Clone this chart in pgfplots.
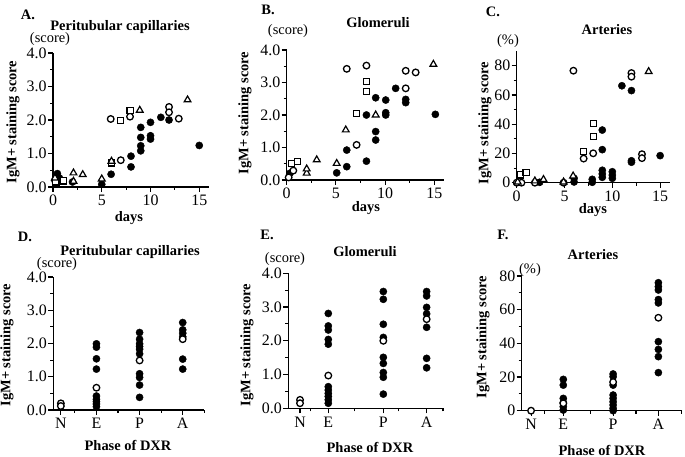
\documentclass[border=0pt]{standalone}
\usepackage{pgfplots}
\pgfplotsset{compat=1.18}
\usepackage{fontspec}
\setmainfont{Liberation Serif}
\newcommand{\lf}{\bfseries\fontsize{14.5}{15}\selectfont}
\newcommand{\rf}{\fontsize{14.5}{15}\selectfont}
\newcommand{\tf}{\fontsize{16}{16}\selectfont}
\begin{document}
\begin{tikzpicture}
\path[use as bounding box] (0,0) rectangle (685bp,457bp);
\pgfplotsset{
 base/.style={scale only axis, anchor=south west, axis lines*=left, clip=false,
   tick align=outside, axis line style={line width=1.1bp},
   every tick/.style={black, line width=1.1bp},
   major tick length=5bp, minor tick length=3bp,
   ticklabel style={font=\tf, inner sep=1.2bp},
   xticklabel style={yshift=-2bp}},
 sc/.style={base, ymin=0, ymax=4, ytick={0,1,2,3,4}, yticklabels={0.0,1.0,2.0,3.0,4.0}, minor ytick={0.5,1.5,2.5,3.5}},
 dy/.style={xmin=0, xmax=16, xtick={0,5,10,15}, xticklabels={0,5,10,15}, minor xtick={2.5,7.5,12.5}},
 fc/.style={only marks, mark=*, mark size=3.6bp, mark options={fill=black, draw=black}},
 oc/.style={only marks, mark=*, mark size=3.3bp, mark options={fill=white, draw=black, line width=1.3bp}},
 os/.style={only marks, mark=square*, mark size=3.1bp, mark options={fill=white, draw=black, line width=1.2bp}},
 ot/.style={only marks, mark=triangle*, mark size=3.9bp, mark options={fill=white, draw=black, line width=1.2bp}},
}
% ---------- A ----------
\begin{axis}[sc, dy, at={(53bp,270bp)}, width=156bp, height=134bp]
\addplot[fc] coordinates {(0.45,0.40)(0.65,0.27)(2.0,0.15)(5.0,0.08)(5.96,0.38)(8.0,0.92)(8.0,0.6)(9.0,1.78)(9.0,1.48)(9.0,1.23)(9.0,1.08)(10.0,1.93)(10.0,1.53)(10.0,1.43)(11.06,2.08)(11.9,2.0)(15.0,1.24)};
\addplot[oc] coordinates {(5.92,2.03)(6.95,0.8)(7.9,2.1)(11.9,2.39)(11.9,2.23)(12.9,2.04)(0.2,0.2)};
\addplot[os] coordinates {(6.95,1.99)(7.9,2.28)(1.06,0.18)(0.3,0.15)(6.0,0.72)};
\addplot[ot] coordinates {(2.1,0.42)(3.05,0.37)(5.0,0.24)(6.0,0.77)(8.9,2.29)(13.8,2.6)(0.2,0.27)(2.1,0.17)};
\end{axis}
% ---------- B ----------
\begin{axis}[sc, dy, at={(286.7bp,277bp)}, width=157.5bp, height=130bp]
\addplot[fc] coordinates {(0.34,0.21)(5.08,0.22)(6.1,0.41)(6.1,0.92)(8.1,0.58)(8.1,2.0)(9.04,2.53)(9.04,1.49)(9.04,1.23)(10.06,2.46)(10.06,2.07)(10.06,2.0)(11.07,2.82)(12.09,2.48)(12.09,2.38)(15.1,2.02)};
\addplot[oc] coordinates {(6.1,3.42)(7.1,1.08)(8.1,3.52)(12.09,3.36)(12.09,2.82)(13.1,3.31)(0.67,0.29)(0.2,0.08)};
\addplot[os] coordinates {(0.51,0.51)(1.12,0.56)(7.1,2.05)(8.1,3.03)(8.1,2.72)};
\addplot[ot] coordinates {(3.05,0.62)(2.03,0.21)(2.03,0.34)(5.08,0.51)(6.0,1.54)(9.04,2.0)(14.9,3.56)};
\end{axis}
% ---------- C ----------
\begin{axis}[base, dy, at={(516.7bp,274.3bp)}, width=153bp, height=131.6bp, ymin=0, ymax=90, ytick={0,20,40,60,80}, yticklabels={0,20,40,60,80}, minor ytick={10,30,50,70}]
\addplot[fc] coordinates {(6,0.5)(6,3.0)(7.9,2.3)(7.9,0.3)(8.95,36)(8.95,22.6)(8.95,8.5)(8.95,6)(8.95,3.7)(10,7.5)(10,5.2)(10,3.0)(11,66.3)(12,63)(12,15)(12,14)(15,18.5)(2.4,0.3)};
\addplot[oc] coordinates {(5.93,76.6)(7,16.5)(8,20.1)(12,75)(12,72.5)(13.1,19.5)(13.1,16.8)(0,0)(0.5,0)(1.9,0)(4.9,0)};
\addplot[os] coordinates {(7,21.5)(8,40.5)(8,31.5)(0.35,5.3)(0.98,6.8)};
\addplot[ot] coordinates {(1.9,1.2)(2.8,2.2)(5.9,4.6)(4.9,0.5)(13.8,76)(0.1,0.5)};
\end{axis}
% ---------- D ----------
\begin{axis}[sc, at={(53.3bp,47bp)}, width=151bp, height=133bp, xmin=0, xmax=7, xtick={0.35,2,4,6}, xticklabels={N,E,P,A}, minor xtick={1,3,5,7}]
\addplot[fc] coordinates {(2,1.99)(2,1.89)(2,1.54)(2,1.23)(2,0.42)(2,0.32)(2,0.25)(2,0.18)(2,0.1)
 (4,2.33)(4,2.13)(4,1.99)(4,1.91)(4,1.83)(4,1.69)(4,1.09)(4,0.98)(4,0.75)(4,0.38)
 (6,2.63)(6,2.41)(6,2.31)(6,2.2)(6,1.53)(6,1.23)};
\addplot[oc] coordinates {(0.35,0.2)(0.35,0.12)(2,0.67)(4,1.49)(6,2.13)};
\end{axis}
% ---------- E ----------
\begin{axis}[sc, at={(288.3bp,48.7bp)}, width=154.7bp, height=135bp, xmin=0, xmax=7, xtick={0.53,1.81,4.3,6.26}, xticklabels={N,E,P,A}, minor xtick={1,3,5,7}]
\addplot[fc] coordinates {(1.81,2.81)(1.81,2.44)(1.81,2.32)(1.81,2.04)(1.81,1.9)(1.81,0.64)(1.81,0.54)(1.81,0.44)(1.81,0.35)(1.81,0.25)(1.81,0.15)
 (4.3,3.46)(4.3,3.23)(4.3,2.49)(4.3,2.1)(4.3,1.51)(4.3,1.33)(4.3,1.06)(4.3,0.92)(4.3,0.42)
 (6.26,3.46)(6.26,3.33)(6.26,2.99)(6.26,2.8)(6.26,2.4)(6.26,1.48)(6.26,1.2)};
\addplot[oc] coordinates {(0.53,0.25)(0.53,0.15)(1.81,0.97)(4.3,2.0)(6.26,2.64)};
\end{axis}
% ---------- F ----------
\begin{axis}[base, at={(521.7bp,46.3bp)}, width=160bp, height=134.7bp, ymin=0, ymax=80, ytick={0,20,40,60,80}, yticklabels={0,20,40,60,80}, minor ytick={10,30,50,70}, xmin=0, xmax=7, xtick={0.41,1.82,4.0,5.98}, xticklabels={N,E,P,A}, minor xtick={1,3,5,7}]
\addplot[fc] coordinates {(1.82,18.6)(1.82,15.2)(1.82,7.3)(1.82,4.8)(1.82,2.4)(1.82,0.4)
 (4,21.8)(4,20.2)(4,15.2)(4,9.3)(4,7.3)(4,5.3)(4,3.4)(4,1.4)(4,0)
 (5.98,76)(5.98,73.7)(5.98,71.7)(5.98,66)(5.98,64)(5.98,41)(5.98,36.4)(5.98,32.1)(5.98,22.6)};
\addplot[oc] coordinates {(0.41,0)(1.82,4.4)(4,17)(5.98,55.2)};
\end{axis}
% ---------- texts ----------
\node[font=\lf] at (28bp,442bp) {A.};
\node[font=\lf] at (120bp,430bp) {Peritubular capillaries};
\node[font=\rf] at (50bp,418bp) {(score)};
\node[font=\lf] at (129bp,239bp) {days};
\node[font=\lf, rotate=90] at (13bp,335bp) {IgM+ staining score};
\node[font=\lf] at (268bp,447bp) {B.};
\node[font=\lf] at (378bp,434bp) {Glomeruli};
\node[font=\rf] at (288bp,426bp) {(score)};
\node[font=\lf] at (366bp,249bp) {days};
\node[font=\lf, rotate=90] at (245bp,344bp) {IgM+ staining score};
\node[font=\lf] at (493bp,445bp) {C.};
\node[font=\lf] at (607bp,427bp) {Arteries};
\node[font=\rf] at (508bp,416bp) {(\%)};
\node[font=\lf] at (593bp,247bp) {days};
\node[font=\lf, rotate=90] at (485bp,334bp) {IgM+ staining score};
\node[font=\lf] at (25bp,220bp) {D.};
\node[font=\lf] at (130bp,205bp) {Peritubular capillaries};
\node[font=\rf] at (57bp,193bp) {(score)};
\node[font=\lf] at (128bp,12bp) {Phase of DXR};
\node[font=\lf, rotate=90] at (7bp,112bp) {IgM+ staining score};
\node[font=\lf] at (267bp,222bp) {E.};
\node[font=\lf] at (365bp,205bp) {Glomeruli};
\node[font=\rf] at (285bp,198bp) {(score)};
\node[font=\lf] at (370bp,10bp) {Phase of DXR};
\node[font=\lf, rotate=90] at (247bp,112bp) {IgM+ staining score};
\node[font=\lf] at (503bp,222bp) {F.};
\node[font=\lf] at (593bp,202bp) {Arteries};
\node[font=\rf] at (530bp,187bp) {(\%)};
\node[font=\lf] at (602bp,7bp) {Phase of DXR};
\node[font=\lf, rotate=90] at (483bp,120bp) {IgM+ staining score};
\end{tikzpicture}
\end{document}
